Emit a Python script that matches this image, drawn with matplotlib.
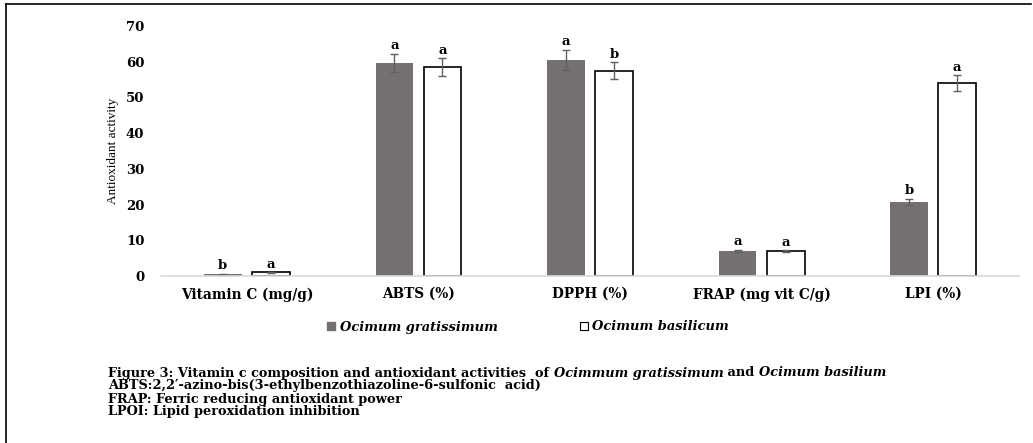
# Vitamin C and antioxidant activity of two Ocimum species
import matplotlib.pyplot as plt
import numpy as np
from matplotlib.patches import Patch
from matplotlib.lines import Line2D

# Data
categories = ["Vitamin C (mg/g)", "ABTS (%)", "DPPH (%)", "FRAP (mg vit C/g)", "LPI (%)"]
gratissimum = [0.5, 59.6, 60.6, 7.0, 20.8]
gratissimum_err = [0.1, 2.6, 2.8, 0.4, 0.9]
basilicum = [1.0, 58.5, 57.5, 6.9, 54.0]
basilicum_err = [0.1, 2.5, 2.4, 0.3, 2.3]
gratissimum_letters = ["b", "a", "a", "a", "b"]
basilicum_letters = ["a", "a", "b", "a", "a"]
yticks = [0, 10, 20, 30, 40, 50, 60, 70]
series_names = ["Ocimum gratissimum", "Ocimum basilicum"]

serif = "DejaVu Serif"
gray = "#767171"

fig = plt.figure(figsize=(10.33, 4.43), dpi=100)
ax = fig.add_axes([161/1033, 167/443, 858/1033, 250/443])

x = np.arange(len(categories))
w = 0.22
ekw = dict(ecolor="#606060", elinewidth=1, capsize=3, capthick=1)
ax.bar(x - 0.14, gratissimum, w, color=gray, yerr=gratissimum_err, error_kw=ekw)
ax.bar(x + 0.14, basilicum, w, color="white", edgecolor="black", linewidth=1.2,
       yerr=basilicum_err, error_kw=ekw)

for xi, v, e, l in zip(x - 0.14, gratissimum, gratissimum_err, gratissimum_letters):
    ax.annotate(l, (xi, v + e), xytext=(0, 1), textcoords="offset points",
                ha="center", va="bottom", family=serif, fontweight="bold", fontsize=9.5)
for xi, v, e, l in zip(x + 0.14, basilicum, basilicum_err, basilicum_letters):
    ax.annotate(l, (xi, v + e), xytext=(0, 1), textcoords="offset points",
                ha="center", va="bottom", family=serif, fontweight="bold", fontsize=9.5)

ax.set_xlim(-0.5, len(categories) - 0.5)
ax.set_ylim(0, 70)
ax.set_yticks(yticks)
ax.set_yticklabels([str(t) for t in yticks], family=serif, fontweight="bold", fontsize=9.5)
ax.set_xticks(x)
ax.set_xticklabels(categories, family=serif, fontweight="bold", fontsize=9.8)
ax.tick_params(axis="y", length=0, pad=12)
ax.tick_params(axis="x", length=0, pad=8)
for s in ["top", "right", "left"]:
    ax.spines[s].set_visible(False)
ax.spines["bottom"].set_color("#d9d9d9")
ax.spines["bottom"].set_linewidth(1.2)

fig.text(113/1033, 1 - 151/443, "Antioxidant activity", rotation=90, ha="center", va="center",
         family="Liberation Serif", fontsize=9.5)

handles = [Patch(facecolor=gray, edgecolor=gray),
           Patch(facecolor="white", edgecolor="black", linewidth=0.8)]
fig.legend(handles, series_names, loc="center", bbox_to_anchor=(528/1033, 1 - 327/443),
           ncol=2, frameon=False, columnspacing=6.3, handlelength=0.6, handleheight=0.6,
           handletextpad=0.35, prop=dict(family=serif, style="italic", weight="bold", size=9.4))

# caption, drawn piece by piece so the italic names sit inline
r = fig.canvas.get_renderer()
def rich_line(parts, x0, y0):
    xx = x0
    for s, st in parts:
        t = fig.text(xx, y0, s, family=serif, fontweight="bold", style=st,
                     fontsize=9.3, va="center", ha="left")
        xx += t.get_window_extent(r).width / fig.bbox.width

rich_line([("Figure 3: Vitamin c composition and antioxidant activities  of ", "normal"),
           ("Ocimmum gratissimum", "italic"), (" and ", "normal"),
           ("Ocimum basilium", "italic")], 108/1033, 1 - 373/443)
rich_line([("ABTS:2,2\u2032-azino-bis(3-ethylbenzothiazoline-6-sulfonic  acid)", "normal")],
          108/1033, 1 - 386/443)
rich_line([("FRAP: Ferric reducing antioxidant power", "normal")], 108/1033, 1 - 399/443)
rich_line([("LPOI: Lipid peroxidation inhibition", "normal")], 108/1033, 1 - 412/443)

# page frame: top and left rules
fig.add_artist(Line2D([6/1033, 1031/1033], [1 - 4/443, 1 - 4/443], color="black", lw=1.2))
fig.add_artist(Line2D([6/1033, 6/1033], [0, 1 - 4/443], color="black", lw=1.2))

plt.savefig("out.png", dpi=100)
